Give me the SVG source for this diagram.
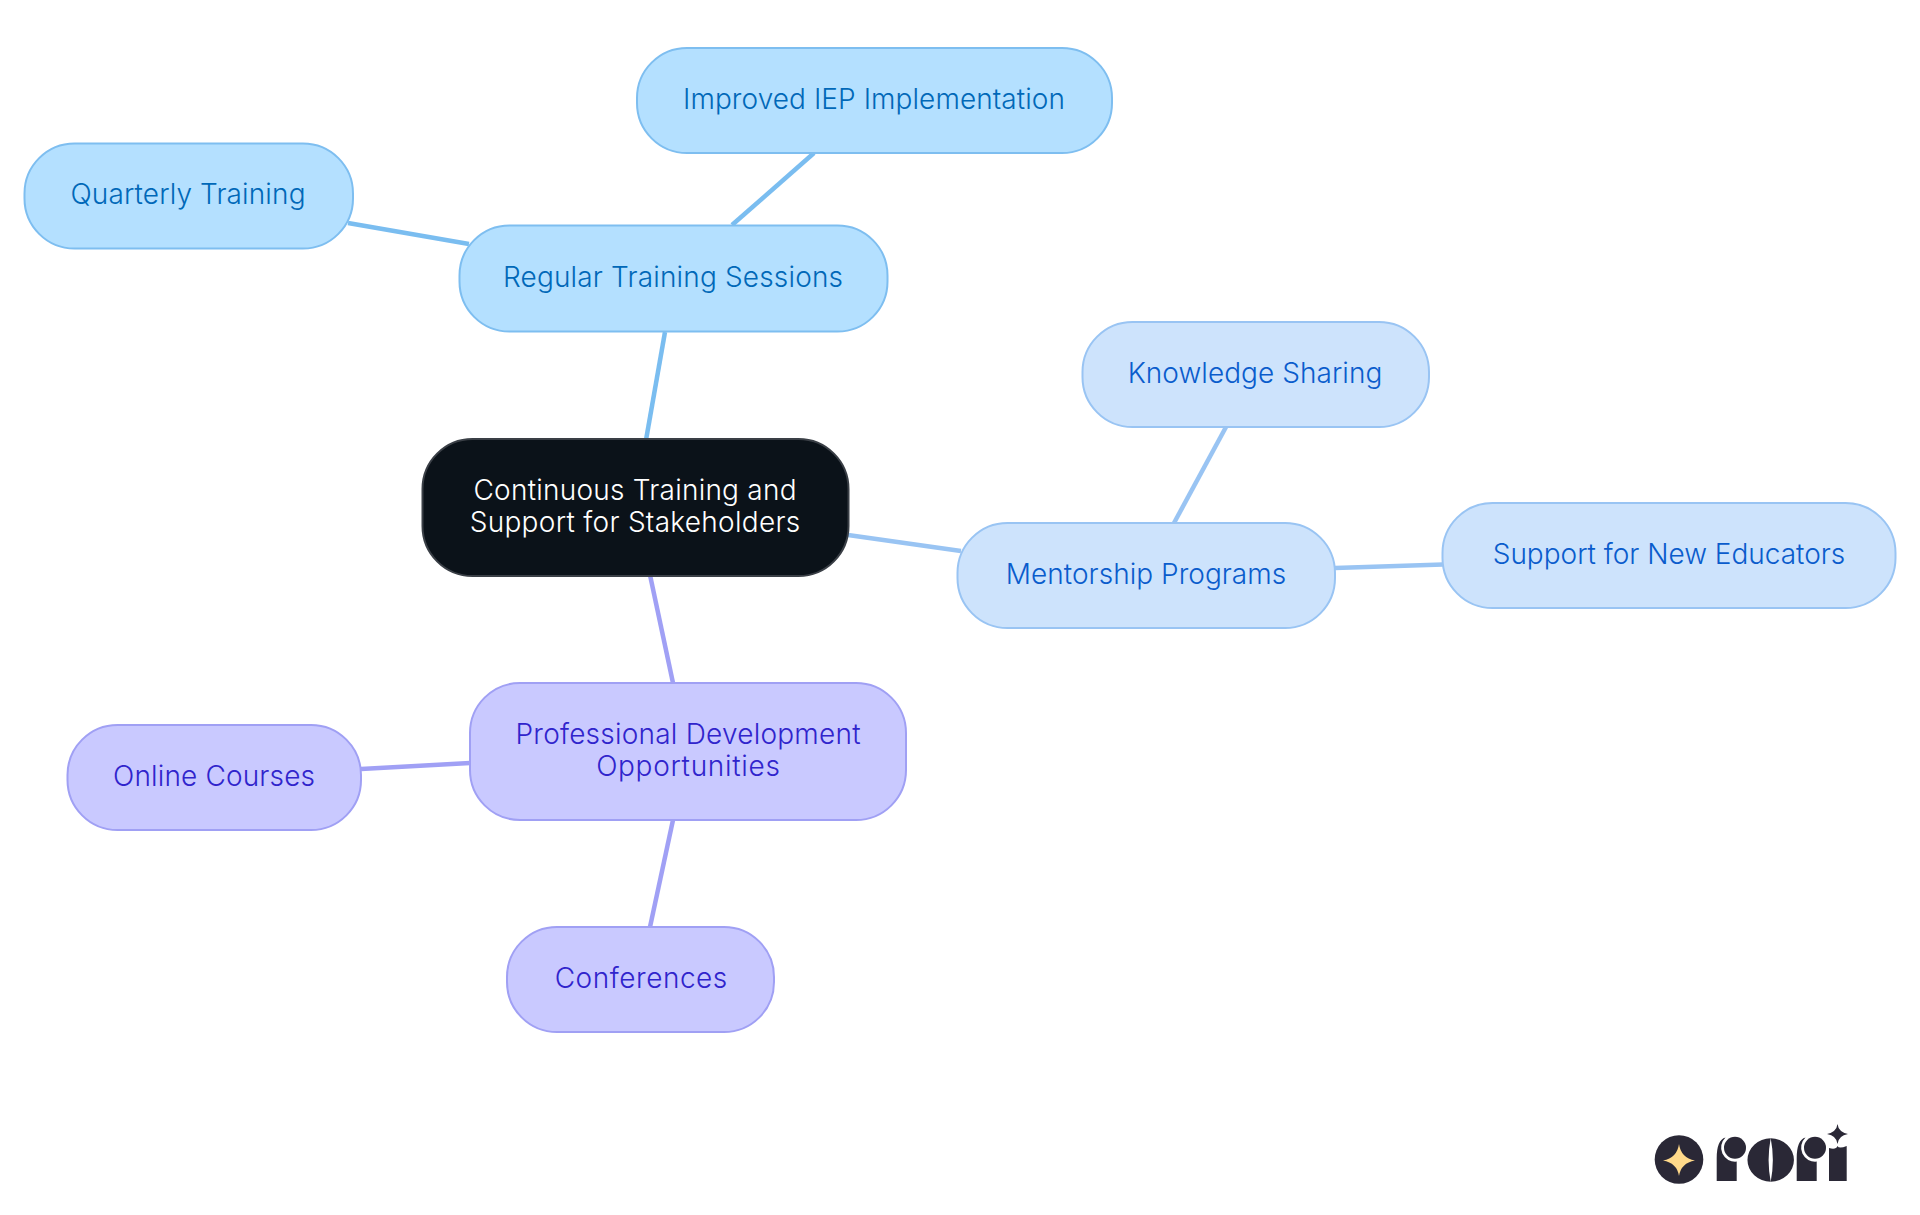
<svg xmlns="http://www.w3.org/2000/svg" width="1920" height="1215" viewBox="0 0 1920 1215">
<style>
text{font-family:"Inter","Noto Sans","Liberation Sans",sans-serif;font-size:28px;font-weight:350;text-anchor:middle}
.n{stroke-width:2}
.a rect{fill:#b4e0ff;stroke:#7ebef0}.a text{fill:#0068b8}
.b rect{fill:#cde3fc;stroke:#99c4f3}.b text{fill:#0a5ccc}
.c rect{fill:#c9c9ff;stroke:#a0a0f4}.c text{fill:#3024cc}
#connectors line{stroke-width:4.5;fill:none}
.la{stroke:#7abdf0}.lb{stroke:#99c4f3}.lc{stroke:#a0a0f5}
.logo{fill:#2a2836}
</style>
<rect width="1920" height="1215" fill="#fff"/>
<g id="connectors">
<line class="la" x1="665" y1="332" x2="646" y2="440"/>
<line class="la" x1="732" y1="225" x2="814" y2="153"/>
<line class="la" x1="469" y1="244" x2="348" y2="223"/>
<line class="lb" x1="848" y1="535" x2="961" y2="551"/>
<line class="lb" x1="1174" y1="523" x2="1226" y2="427"/>
<line class="lb" x1="1335" y1="568" x2="1443" y2="564.5"/>
<line class="lc" x1="650" y1="575" x2="673" y2="683"/>
<line class="lc" x1="470" y1="763" x2="361" y2="769"/>
<line class="lc" x1="673" y1="820" x2="650" y2="927"/>
</g>
<g id="root"><rect x="422.5" y="439" width="426" height="137" rx="50" fill="#0b1219" stroke="#3a3f46" stroke-width="2"/><text x="635" y="500" fill="#fff" textLength="323">Continuous Training and</text><text x="635" y="532" fill="#fff" textLength="330.600">Support for Stakeholders</text></g>
<g id="regular" class="a"><rect class="n" x="459.500" y="225.500" width="428" height="106" rx="50"/><text x="673" y="286.500" textLength="340">Regular Training Sessions</text></g>
<g id="improved" class="a"><rect class="n" x="637" y="48" width="475" height="105" rx="50"/><text x="874" y="109" textLength="382">Improved IEP Implementation</text></g>
<g id="quarterly" class="a"><rect class="n" x="24.500" y="143.500" width="328.500" height="105" rx="50"/><text x="188" y="203.500" textLength="235">Quarterly Training</text></g>
<g id="mentorship" class="b"><rect class="n" x="957.500" y="523" width="377.500" height="105" rx="50"/><text x="1146" y="584" textLength="280.400">Mentorship Programs</text></g>
<g id="knowledge" class="b"><rect class="n" x="1082.500" y="322" width="346.500" height="105" rx="50"/><text x="1255" y="383" textLength="254.700">Knowledge Sharing</text></g>
<g id="support" class="b"><rect class="n" x="1442.500" y="503" width="453" height="105" rx="50"/><text x="1669" y="564" textLength="352.600">Support for New Educators</text></g>
<g id="development" class="c"><rect class="n" x="470" y="683" width="436" height="137" rx="50"/><text x="688" y="744" textLength="345">Professional Development</text><text x="688" y="776" textLength="183.700">Opportunities</text></g>
<g id="online" class="c"><rect class="n" x="67.500" y="725" width="293.500" height="105" rx="50"/><text x="214" y="786" textLength="202">Online Courses</text></g>
<g id="conferences" class="c"><rect class="n" x="507" y="927" width="267" height="105" rx="50"/><text x="641" y="988" textLength="172.600">Conferences</text></g>
<g id="logo">
<circle class="logo" cx="1679" cy="1159.500" r="24.300"/>
<path fill="#ffd98a" d="M1679 1144Q1681 1158 1695 1160.500Q1681 1163 1679 1176Q1677 1163 1663 1160.500Q1677 1158 1679 1144Z"/>
<path class="logo" d="M1716.700 1181V1158Q1716.700 1140 1725.500 1137.500A14 14 0 0 0 1736.700 1161.600V1181Z"/><circle class="logo" cx="1735" cy="1147.700" r="11"/>
<path class="logo" d="M1770.700 1138.300A23.300 21.700 0 0 0 1770.700 1181.700Q1766.500 1160 1770.700 1138.300Z"/><path class="logo" d="M1770.700 1138.300A23.300 21.700 0 0 1 1770.700 1181.700Q1775 1160 1770.700 1138.300Z"/>
<path class="logo" d="M1796.700 1181V1158Q1796.700 1140 1805.500 1137.500A14 14 0 0 0 1816.700 1161.600V1181Z"/><circle class="logo" cx="1815" cy="1147.700" r="11"/>
<path class="logo" d="M1829 1181V1148Q1836 1150 1837.500 1146Q1839 1149 1846.700 1146V1181Z"/>
<path class="logo" d="M1837.500 1124Q1838.500 1132 1848 1134Q1838.500 1135.500 1837.500 1144Q1836.500 1135.500 1827 1134Q1836.500 1132 1837.500 1124Z"/>
</g>
</svg>
